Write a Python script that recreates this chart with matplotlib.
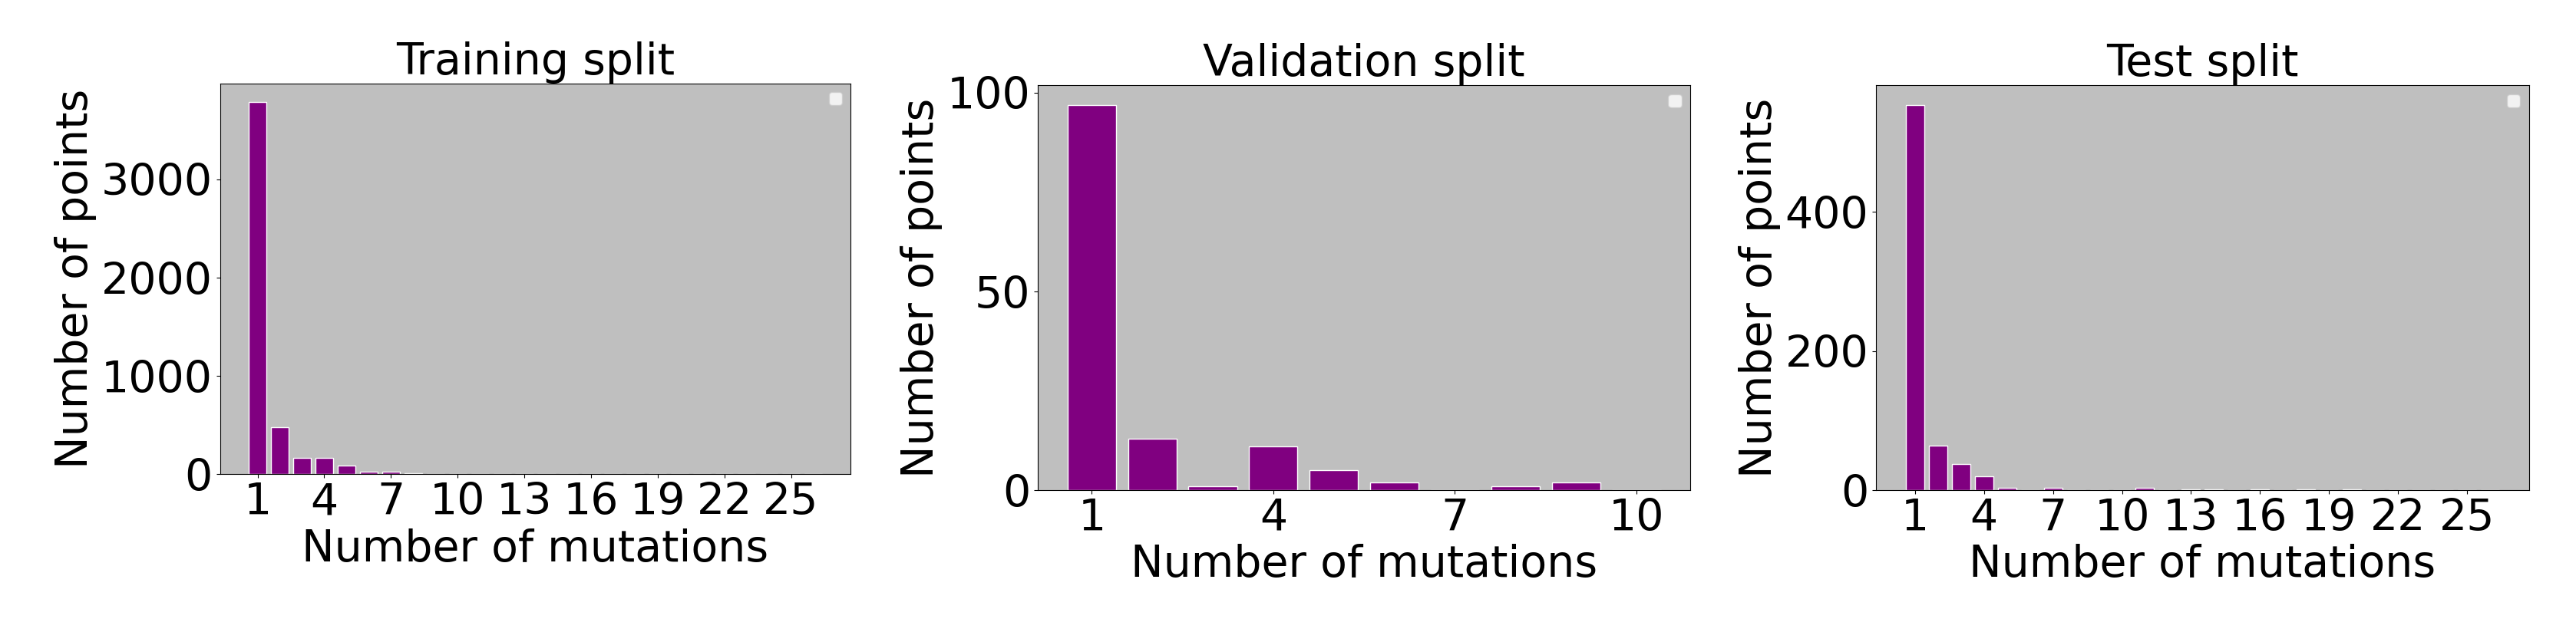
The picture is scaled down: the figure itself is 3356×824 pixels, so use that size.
import matplotlib

matplotlib.use("Agg")
import matplotlib.pyplot as plt
import numpy as np

# counts per number of mutations
train_counts = [3788, 479, 169, 169, 86, 25, 25, 14, 0, 3, 3, 3, 3, 3, 3,
                0, 0, 0, 0, 0, 0, 0, 0, 0, 0, 0]
val_counts = [97, 13, 1, 11, 5, 2, 0, 1, 2, 0]
test_counts = [554, 64, 37, 20, 3, 0, 3, 0, 0, 0, 3, 0, 1, 1, 0, 1, 0, 1,
               0, 1, 0, 0, 0, 0, 0, 0]

titles = ["Training split", "Validation split", "Test split"]
yticks = [[0, 1000, 2000, 3000], [0, 50, 100], [0, 200, 400]]

FS = 41
BAR_COLOR = "#800080"
BG = "#bfbfbf"

fig = plt.figure(figsize=(33.56, 8.24), dpi=100)
rects = [
    [0.0854, 0.2495, 0.2449, 0.6187],
    [0.4029, 0.2245, 0.2533, 0.6403],
    [0.7283, 0.2245, 0.2534, 0.6403],
]

for rect, counts, title, yt in zip(rects, [train_counts, val_counts, test_counts], titles, yticks):
    ax = fig.add_axes(rect)
    x = np.arange(1, len(counts) + 1)
    ax.bar(x, counts, width=0.8, color=BAR_COLOR, edgecolor="white", linewidth=1.0)
    ax.set_facecolor(BG)
    ax.set_title(title, fontsize=FS)
    ax.set_xlabel("Number of mutations", fontsize=FS)
    ax.set_ylabel("Number of points", fontsize=FS)
    ax.set_xticks(x[::3])
    ax.set_yticks(yt)
    ax.tick_params(axis="both", labelsize=FS)
    ax.legend(loc="upper right", fontsize=16)

fig.savefig("out.png", dpi=100)
